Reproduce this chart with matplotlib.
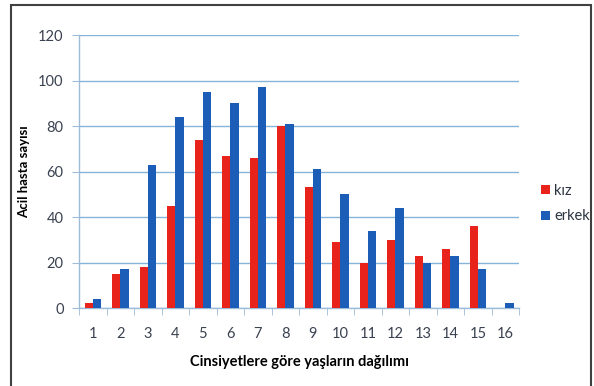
import numpy as np
import matplotlib.pyplot as plt
from matplotlib.patches import Rectangle

# age groups and counts per gender
ages = [str(i) for i in range(1, 17)]
kiz = [2, 15, 18, 45, 74, 67, 66, 80, 53, 29, 20, 30, 23, 26, 36, 0]
erkek = [4, 17, 63, 84, 95, 90, 97, 81, 61, 50, 34, 44, 20, 23, 17, 2]

plt.rcParams['font.family'] = ['Lato', 'DejaVu Sans']

fig = plt.figure(figsize=(5.94, 3.86), dpi=100)
ax = fig.add_axes([0.133, 0.202, 0.741, 0.707])

x = np.arange(len(ages))
w = 0.3
red = '#E8231C'
blue = '#1C5DB8'
ax.bar(x - w / 2, kiz, width=w, color=red, label='kız', zorder=3)
ax.bar(x + w / 2, erkek, width=w, color=blue, label='erkek', zorder=3)

ax.set_xlim(-0.5, len(ages) - 0.5)
ax.set_ylim(0, 120)
ax.set_yticks(range(0, 121, 20))
ax.yaxis.grid(True, color='#86B3D9', linewidth=1, zorder=0)

ax.set_xticks(x)
ax.set_xticklabels(ages)
ax.set_xticks(np.arange(-0.5, len(ages), 1), minor=True)
ax.tick_params(axis='x', which='major', length=0, pad=14, labelsize=10.5, labelcolor='#3A4250')
ax.tick_params(axis='x', which='minor', length=5, color='#9DBCD8', direction='out')
ax.tick_params(axis='y', length=5, color='#9DBCD8', pad=6, labelsize=10.5, labelcolor='#3A4250')

for s in ['top', 'right']:
    ax.spines[s].set_visible(False)
for s in ['left', 'bottom']:
    ax.spines[s].set_color('#9DBCD8')
    ax.spines[s].set_linewidth(1)

ax.set_ylabel('Acil hasta sayısı', fontsize=9.5, fontweight='bold', labelpad=6)
ax.set_xlabel('Cinsiyetlere göre yaşların dağılımı', fontsize=10.5, fontweight='bold', labelpad=10)

ax.legend(loc='center left', bbox_to_anchor=(1.02, 0.383), frameon=False,
          fontsize=10.5, handlelength=0.6, handleheight=0.6, handletextpad=0.3,
          labelspacing=0.8, labelcolor='#2A3340')

# outer frame around the chart
fig.patches.append(Rectangle((11 / 594, -0.05), 580 / 594, 1.05 - 5 / 386,
                             transform=fig.transFigure, fill=False,
                             edgecolor='#404040', linewidth=1.5))

fig.savefig('out.png', dpi=100)
